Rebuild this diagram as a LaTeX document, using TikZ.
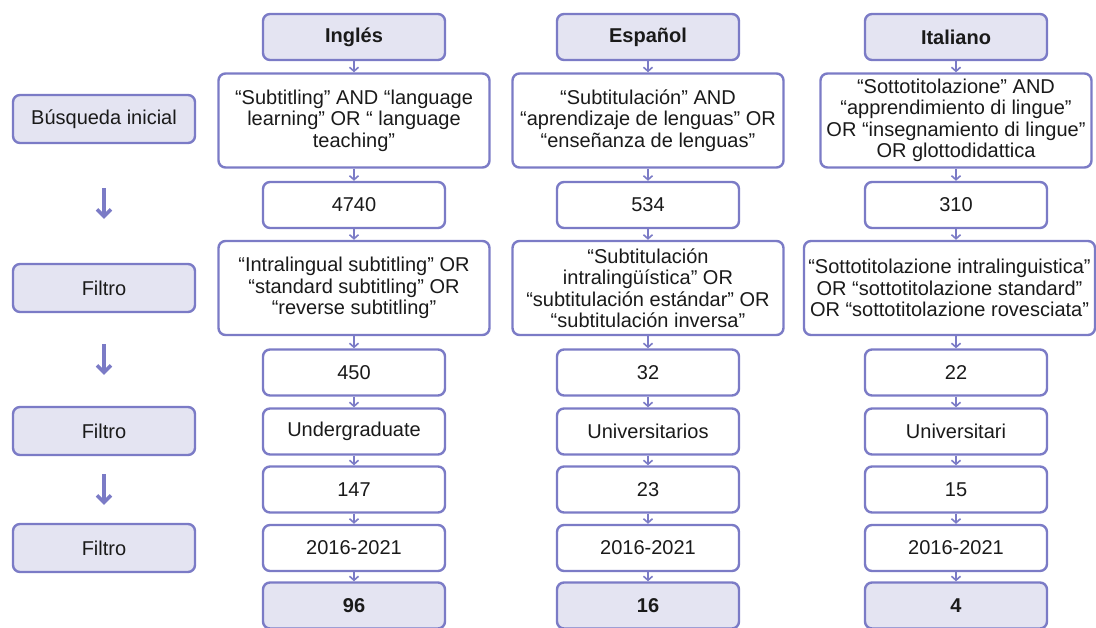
\documentclass[tikz,border=0pt]{standalone}
\usepackage{fontspec}
\setmainfont{Liberation Sans}
\usetikzlibrary{arrows.meta}
\definecolor{bc}{HTML}{7B7BC6}
\definecolor{bf}{HTML}{E4E4F2}
\definecolor{tx}{HTML}{1A1A1A}
\begin{document}
\begin{tikzpicture}[x=1bp,y=-1bp,
 box/.style={draw=bc, line width=2.4bp, rounded corners=7bp, fill=white, align=center, inner sep=2bp, text=tx, font=\fontsize{20bp}{21.5bp}\selectfont},
 nar/.style={box, minimum width=182bp, minimum height=46bp},
 hd/.style={nar, fill=bf, font=\fontsize{20bp}{21.5bp}\selectfont\bfseries},
 lab/.style={nar, fill=bf, minimum height=48bp},
 wide/.style={box, minimum width=271bp, minimum height=94bp},
 link/.style={draw=bc, line width=1.6bp, -{Straight Barb[length=4bp,width=9bp]}},
 big/.style={draw=bc, line width=3.4bp, -{Straight Barb[length=7bp,width=14bp]}}
]
\useasboundingbox (0,0) rectangle (1096,628);

% left labels
\node[lab] (L0) at (104,119) {Búsqueda inicial};
\node[lab] (L1) at (104,288) {Filtro};
\node[lab] (L2) at (104,431) {Filtro};
\node[lab] (L3) at (104,548) {Filtro};
\draw[big, shorten <=44bp, shorten >=44bp] (L0) -- (L1);
\draw[big, shorten <=31bp, shorten >=31bp] (L1) -- (L2);
\draw[big, shorten <=18bp, shorten >=18bp] (L2) -- (L3);

% column 1: Ingles
\node[hd]   (h1) at (354,37)  {Inglés};
\node[wide] (a1) at (354,120.5) {“Subtitling” AND “language\\learning” OR “ language\\teaching”};
\node[nar]  (p1) at (354,205) {4740};
\node[wide] (b1) at (354,288) {“Intralingual subtitling” OR\\“standard subtitling” OR\\“reverse subtitling”};
\node[nar]  (q1) at (354,372.5) {450};
\node[nar]  (c1) at (354,431.5) {Undergraduate};
\node[nar]  (r1) at (354,489.5) {147};
\node[nar]  (d1) at (354,548) {2016-2021};
\node[hd]   (f1) at (354,605.5) {96};

% column 2: Espanol
\node[hd]   (h2) at (648,37)  {Español};
\node[wide] (a2) at (648,120.5) {“Subtitulación” AND\\“aprendizaje de lenguas” OR\\“enseñanza de lenguas”};
\node[nar]  (p2) at (648,205) {534};
\node[wide] (b2) at (648,288) {“Subtitulación\\intralingüística” OR\\“subtitulación estándar” OR\\“subtitulación inversa”};
\node[nar]  (q2) at (648,372.5) {32};
\node[nar]  (c2) at (648,431.5) {Universitarios};
\node[nar]  (r2) at (648,489.5) {23};
\node[nar]  (d2) at (648,548) {2016-2021};
\node[hd]   (f2) at (648,605.5) {16};

% column 3: Italiano
\node[hd]   (h3) at (956,37)  {Italiano};
\node[wide] (a3) at (956,120.5) {“Sottotitolazione” AND\\“apprendimiento di lingue”\\OR “insegnamiento di lingue”\\OR glottodidattica};
\node[nar]  (p3) at (956,205) {310};
\node[wide, minimum width=291bp] (b3) at (949.5,288) {“Sottotitolazione intralinguistica”\\OR “sottotitolazione standard”\\OR “sottotitolazione rovesciata”};
\node[nar]  (q3) at (956,372.5) {22};
\node[nar]  (c3) at (956,431.5) {Universitari};
\node[nar]  (r3) at (956,489.5) {15};
\node[nar]  (d3) at (956,548) {2016-2021};
\node[hd]   (f3) at (956,605.5) {4};

\foreach \i in {1,2}{
  \draw[link] (h\i) -- (a\i);
  \draw[link] (a\i) -- (p\i);
  \draw[link] (p\i) -- (b\i);
  \draw[link] (b\i) -- (q\i);
  \draw[link] (q\i) -- (c\i);
  \draw[link] (c\i) -- (r\i);
  \draw[link] (r\i) -- (d\i);
  \draw[link] (d\i) -- (f\i);
}
\draw[link] (h3) -- (a3);
\draw[link] (a3) -- (p3);
\draw[link] (p3.south) -- (p3.south |- b3.north);
\draw[link] (b3.south -| q3.north) -- (q3.north);
\draw[link] (q3) -- (c3);
\draw[link] (c3) -- (r3);
\draw[link] (r3) -- (d3);
\draw[link] (d3) -- (f3);
\end{tikzpicture}
\end{document}
